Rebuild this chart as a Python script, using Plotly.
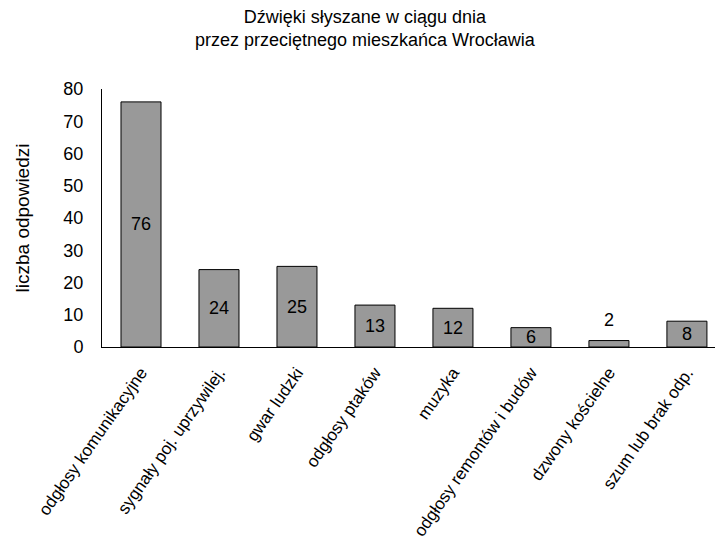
import plotly.graph_objects as go

categories = [
    "odgłosy komunikacyjne",
    "sygnały poj. uprzywilej.",
    "gwar ludzki",
    "odgłosy ptaków",
    "muzyka",
    "odgłosy remontów i budów",
    "dzwony kościelne",
    "szum lub brak odp.",
]
values = [76, 24, 25, 13, 12, 6, 2, 8]

FONT = "Liberation Sans, Arial, Helvetica, sans-serif"

fig = go.Figure(
    go.Bar(
        x=categories,
        y=values,
        marker=dict(color="#999999", line=dict(color="black", width=1)),
        hoverinfo="x+y",
    )
)

# value labels: centred inside the bar, or above it when the bar is too short
value_labels = []
for cat, v in zip(categories, values):
    inside = v >= 4
    value_labels.append(
        dict(
            x=cat,
            y=v / 2 if inside else v,
            xref="x",
            yref="y",
            text=str(v),
            showarrow=False,
            yanchor="middle" if inside else "bottom",
            yshift=0 if inside else 9,
            font=dict(family=FONT, size=18, color="black"),
        )
    )

title_note = dict(
    text="Dźwięki słyszane w ciągu dnia<br>przez przeciętnego mieszkańca Wrocławia",
    xref="paper",
    yref="paper",
    x=0.43,
    y=1.325,
    xanchor="center",
    yanchor="top",
    showarrow=False,
    align="center",
    font=dict(family=FONT, size=18, color="black"),
)

fig.update_layout(
    width=715,
    height=543,
    margin=dict(l=102, r=0, t=89, b=196),
    paper_bgcolor="white",
    plot_bgcolor="white",
    bargap=0.487,
    showlegend=False,
    font=dict(family=FONT, color="black"),
    annotations=value_labels + [title_note],
)

fig.update_xaxes(
    range=[-0.5, 7.36],
    showline=True,
    linecolor="black",
    linewidth=1,
    ticks="",
    tickangle=-55,
    tickfont=dict(family=FONT, size=17, color="black"),
    showgrid=False,
    ticklabelstandoff=8,
)

fig.update_yaxes(
    range=[0, 80],
    dtick=10,
    showline=True,
    linecolor="black",
    linewidth=1,
    ticks="",
    showgrid=False,
    zeroline=False,
    tickfont=dict(family=FONT, size=18, color="black"),
    ticklabelstandoff=14,
    title=dict(
        text="liczba odpowiedzi",
        font=dict(family=FONT, size=19, color="black"),
        standoff=28,
    ),
)

fig.write_html("out.html")
